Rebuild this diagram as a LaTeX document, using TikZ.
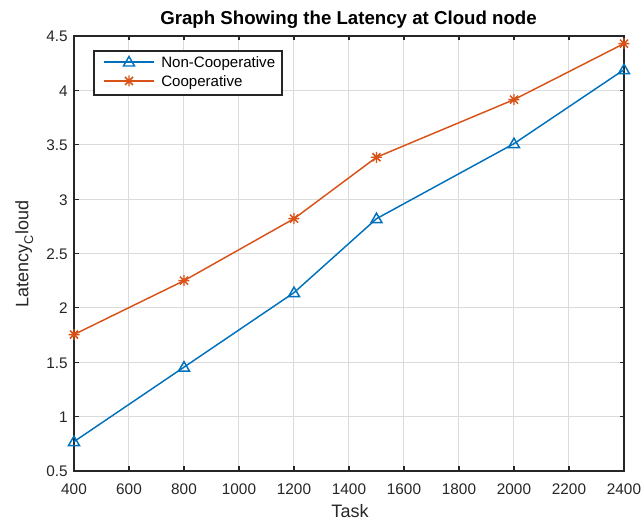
\documentclass[tikz,border=0pt]{standalone}
\usepackage{fontspec}
\setmainfont{Liberation Sans}
\definecolor{mblue}{rgb}{0,0.447,0.741}
\definecolor{morange}{rgb}{0.85,0.325,0.098}
\definecolor{axgray}{rgb}{0.15,0.15,0.15}
\definecolor{gridgray}{rgb}{0.86,0.86,0.86}
\newcommand{\dpt}[3]{\coordinate (#1) at ({74+(#2-400)*0.275},{471-(#3-0.5)*108.75});}
\tikzset{
  gridline/.style={gridgray, line width=0.75pt},
  axisline/.style={axgray, line width=0.8pt},
  ticklab/.style={text=axgray, font=\fontsize{11.5}{13}\selectfont, inner sep=0pt},
  series/.style={line width=1.1pt, line join=round},
  tri/.pic={\draw[line width=1.1pt, line join=miter] (0,-5.5) -- (5.5,4) -- (-5.5,4) -- cycle;},
  star/.pic={\draw[line width=1.1pt] (-5.5,0) -- (5.5,0) (0,-5.5) -- (0,5.5) (-4,-4) -- (4,4) (-4,4) -- (4,-4);},
}
\begin{document}
\begin{tikzpicture}[x=0.75pt,y=-0.75pt]
\useasboundingbox (0,0) rectangle (644,524);
\fill[white] (0,0) rectangle (644,524);
% grid
\foreach \v in {600,800,...,2200}
  \draw[gridline] ({74+(\v-400)*0.275},36) -- ({74+(\v-400)*0.275},471);
\foreach \i in {1,...,7}
  \draw[gridline] (74,{471-\i*54.375}) -- (624,{471-\i*54.375});
% axes box and ticks
\draw[axisline] (74,36) rectangle (624,471);
\foreach \v in {400,600,...,2400} {
  \draw[axisline] ({74+(\v-400)*0.275},471) -- ({74+(\v-400)*0.275},466.5);
  \draw[axisline] ({74+(\v-400)*0.275},36) -- ({74+(\v-400)*0.275},40.5);
  \node[ticklab, anchor=base] (xt\v) at ({74+(\v-400)*0.275},495) {\v};
}
\foreach \lab [count=\i from 0] in {0.5,1,1.5,2,2.5,3,3.5,4,4.5} {
  \draw[axisline] (74,{471-\i*54.375}) -- (78.5,{471-\i*54.375});
  \draw[axisline] (624,{471-\i*54.375}) -- (619.5,{471-\i*54.375});
  \node[ticklab, anchor=base east] (yt\i) at (68,{477-\i*54.375}) {\lab};
}
% labels
\node[anchor=base, inner sep=0pt, font=\bfseries\fontsize{14}{16}\selectfont] (title) at (348.5,25) {Graph Showing the Latency at Cloud node};
\node[anchor=base, inner sep=0pt, text=axgray, font=\fontsize{13.5}{15}\selectfont] (xlab) at (350,518) {Task};
\node[anchor=base, inner sep=0pt, rotate=90, text=axgray, font=\fontsize{13.5}{15}\selectfont] (ylab) at (28.5,254) {Latency\raisebox{-3.5pt}{\fontsize{9.5}{10}\selectfont C}loud};
% data
\dpt{b1}{400}{0.77}\dpt{b2}{800}{1.455}\dpt{b3}{1200}{2.14}\dpt{b4}{1500}{2.82}\dpt{b5}{2000}{3.51}\dpt{b6}{2400}{4.19}
\dpt{o1}{400}{1.755}\dpt{o2}{800}{2.25}\dpt{o3}{1200}{2.82}\dpt{o4}{1500}{3.385}\dpt{o5}{2000}{3.915}\dpt{o6}{2400}{4.43}
\draw[series, mblue] (b1) -- (b2) -- (b3) -- (b4) -- (b5) -- (b6);
\draw[series, morange] (o1) -- (o2) -- (o3) -- (o4) -- (o5) -- (o6);
\foreach \p in {b1,b2,b3,b4,b5,b6} \pic[mblue] at (\p) {tri};
\foreach \p in {o1,o2,o3,o4,o5,o6} \pic[morange] at (\p) {star};
% legend
\draw[axisline, fill=white] (94,51) rectangle (282,95);
\coordinate (la1) at (104,62); \coordinate (lb1) at (154,62); \coordinate (lm1) at (129,62);
\coordinate (la2) at (104,81); \coordinate (lb2) at (154,81); \coordinate (lm2) at (129,81);
\draw[series, mblue] (la1) -- (lb1);
\pic[mblue] at (lm1) {tri};
\draw[series, morange] (la2) -- (lb2);
\pic[morange] at (lm2) {star};
\node[anchor=base west, inner sep=0pt, text=black, font=\fontsize{11.3}{13}\selectfont] (leg1) at (161,67.7) {Non-Cooperative};
\node[anchor=base west, inner sep=0pt, text=black, font=\fontsize{11.3}{13}\selectfont] (leg2) at (161,86.7) {Cooperative};
\end{tikzpicture}
\end{document}
